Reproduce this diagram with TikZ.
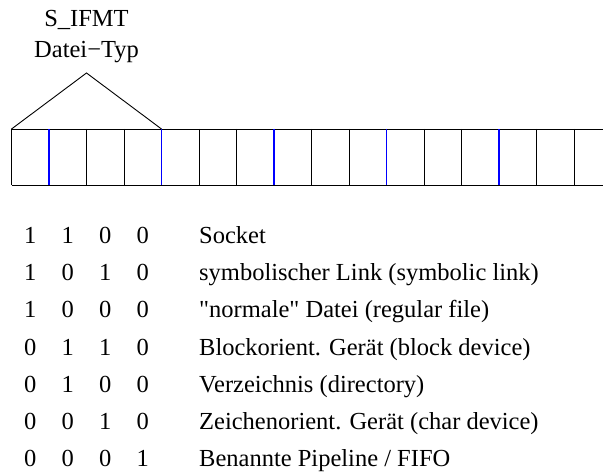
\documentclass[tikz,border=0pt]{standalone}
\usepackage{fontspec}
\setmainfont{Liberation Serif}
\usepackage{tikz}
\newcommand\straightquote{\XeTeXglyph\XeTeXcharglyph"22\relax}
\tikzset{
    cellline/.style={draw=black, line width=0.9pt},
    nibble/.style={draw=blue, line width=1.6pt},
    bit/.style={anchor=base, inner sep=0pt, font=\fontsize{24.5}{29}\selectfont},
    filetype/.style={anchor=base west, inner sep=0pt, font=\fontsize{24.5}{29}\selectfont},
    header/.style={anchor=base, inner sep=0pt, font=\fontsize{24.5}{29}\selectfont}
}

\begin{document}
\begin{tikzpicture}[x=1pt, y=-1pt]
    \useasboundingbox (0,0) rectangle (603,473);

    % header and triangle
    \node [header] (ifmt) at (86.5, 27) {S\_IFMT};
    \node [header] (ftype) at (86.5, 58) {Datei−Typ};
    \coordinate (apex) at (86.5, 73);
    \coordinate (boxleft) at (11.5, 129);
    \coordinate (boxmid) at (161.5, 129);
    \draw [cellline] (boxleft) -- (apex) -- (boxmid);

    % the mode word
    \draw [cellline] (11.5, 129) -- (603, 129);
    \draw [cellline] (11.5, 185.5) -- (603, 185.5);
    \foreach \k in {0,2,3,5,6,8,9,11,12,14,15}
      \draw [cellline] (11.5+37.5*\k, 129) -- (11.5+37.5*\k, 185.5);
    \foreach \k in {1,4,7,10,13}
      \draw [nibble] (11.5+37.5*\k, 129) -- (11.5+37.5*\k, 185.5);

    % the bit patterns
    \node [bit] (s1) at (30.25, 243.5) {1};
    \node [bit] (s2) at (67.75, 243.5) {1};
    \node [bit] (s3) at (105.25, 243.5) {0};
    \node [bit] (s4) at (142.75, 243.5) {0};
    \node [filetype] (sock) at (199, 243.5) {Socket};

    \node [bit] (l1) at (30.25, 280.7) {1};
    \node [bit] (l2) at (67.75, 280.7) {0};
    \node [bit] (l3) at (105.25, 280.7) {1};
    \node [bit] (l4) at (142.75, 280.7) {0};
    \node [filetype] (link) at (199, 280.7) {symbolischer Link (symbolic link)};

    \node [bit] (r1) at (30.25, 317.9) {1};
    \node [bit] (r2) at (67.75, 317.9) {0};
    \node [bit] (r3) at (105.25, 317.9) {0};
    \node [bit] (r4) at (142.75, 317.9) {0};
    \node [filetype] (reg) at (199, 317.9) {\straightquote normale\straightquote{} Datei (regular file)};

    \node [bit] (b1) at (30.25, 355.1) {0};
    \node [bit] (b2) at (67.75, 355.1) {1};
    \node [bit] (b3) at (105.25, 355.1) {1};
    \node [bit] (b4) at (142.75, 355.1) {0};
    \node [filetype] (blk) at (199, 355.1) {Blockorient. Gerät (block device)};

    \node [bit] (d1) at (30.25, 392.3) {0};
    \node [bit] (d2) at (67.75, 392.3) {1};
    \node [bit] (d3) at (105.25, 392.3) {0};
    \node [bit] (d4) at (142.75, 392.3) {0};
    \node [filetype] (dir) at (199, 392.3) {Verzeichnis (directory)};

    \node [bit] (c1) at (30.25, 429.5) {0};
    \node [bit] (c2) at (67.75, 429.5) {0};
    \node [bit] (c3) at (105.25, 429.5) {1};
    \node [bit] (c4) at (142.75, 429.5) {0};
    \node [filetype] (chr) at (199, 429.5) {Zeichenorient. Gerät (char device)};

    \node [bit] (f1) at (30.25, 466.7) {0};
    \node [bit] (f2) at (67.75, 466.7) {0};
    \node [bit] (f3) at (105.25, 466.7) {0};
    \node [bit] (f4) at (142.75, 466.7) {1};
    \node [filetype] (fifo) at (199, 466.7) {Benannte Pipeline / FIFO};
\end{tikzpicture}
\end{document}
